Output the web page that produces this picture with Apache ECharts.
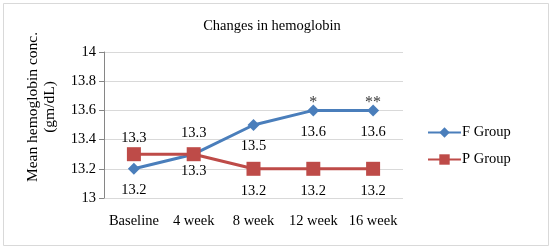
<!DOCTYPE html>
<html>
<head>
<meta charset="utf-8">
<script src="https://cdn.jsdelivr.net/npm/echarts@6/dist/echarts.min.js"></script>
<style>
html,body{margin:0;padding:0;background:#fff;}
#main{width:552px;height:250px;}
</style>
</head>
<body>
<div id="main"></div>
<script>
// data
var categories = ['Baseline', '4 week', '8 week', '12 week', '16 week'];
var fGroup = [13.2, 13.3, 13.5, 13.6, 13.6];
var pGroup = [13.3, 13.3, 13.2, 13.2, 13.2];
var sigMarks = ['', '', '', '*', '**'];
var yTicks = [13, 13.2, 13.4, 13.6, 13.8, 14];

// where each value label sits
var fLabelPos = ['bottom', 'top', 'bottom', 'bottom', 'bottom'];
var pLabelPos = ['top', 'bottom', 'bottom', 'bottom', 'bottom'];
var pLabelDist = [2, 2, 8, 8, 8];

var font = '"Liberation Serif", "Times New Roman", serif';

function withLabels(values, pos, dist) {
    return values.map(function (v, i) {
        return {
            value: v,
            label: { position: pos[i], distance: dist ? dist[i] : 8 }
        };
    });
}

var chart = echarts.init(document.getElementById('main'));

var option = {
    backgroundColor: '#ffffff',
    animation: false,
    textStyle: { fontFamily: font },
    title: {
        text: 'Changes in hemoglobin',
        left: 267,
        textAlign: 'center',
        top: 14,
        textStyle: { fontFamily: font, fontSize: 14.5, fontWeight: 'normal', color: '#000' }
    },
    legend: {
        orient: 'vertical',
        left: 422,
        top: 120,
        itemWidth: 33,
        itemHeight: 13,
        itemGap: 12,
        data: ['F Group', 'P Group'],
        textStyle: { fontFamily: font, fontSize: 14.5, color: '#000', padding: [0, 0, 0, -4] }
    },
    grid: { left: 104, right: 149, top: 52, bottom: 52 },
    xAxis: {
        type: 'category',
        data: categories,
        axisLine: { show: false },
        axisTick: { show: false },
        axisLabel: { color: '#000', fontSize: 14.5, fontFamily: font, margin: 16, interval: 0, hideOverlap: false }
    },
    yAxis: {
        type: 'value',
        min: 13,
        max: 14,
        interval: 0.2,
        name: 'Mean hemoglobin conc.\n(gm/dL)',
        nameLocation: 'middle',
        nameGap: 46,
        nameTextStyle: { fontFamily: font, fontSize: 15.5, color: '#000', lineHeight: 17, padding: [0, 0, 0, 36] },
        axisLine: { show: true, lineStyle: { color: '#868686' } },
        axisTick: { show: true, inside: false, length: 5, lineStyle: { color: '#868686' } },
        splitLine: { lineStyle: { color: '#d9d9d9' } },
        axisLabel: {
            color: '#000', fontSize: 14.5, fontFamily: font, margin: 8,
            formatter: function (v) { return yTicks.indexOf(Math.round(v * 10) / 10) >= 0 ? String(Math.round(v * 10) / 10) : ''; }
        }
    },
    series: [
        {
            name: 'F Group',
            type: 'line',
            data: withLabels(fGroup, fLabelPos),
            symbol: 'diamond',
            symbolSize: 12,
            color: '#4a7ebb',
            lineStyle: { width: 3, color: '#4a7ebb' },
            label: { show: true, color: '#000', fontSize: 14.5, fontFamily: font }
        },
        {
            name: 'P Group',
            type: 'line',
            data: withLabels(pGroup, pLabelPos, pLabelDist),
            symbol: 'rect',
            symbolSize: 14,
            color: '#be4b48',
            lineStyle: { width: 3, color: '#be4b48' },
            label: { show: true, color: '#000', fontSize: 14.5, fontFamily: font }
        },
        {
            name: 'sig',
            type: 'scatter',
            data: fGroup,
            symbolSize: 12,
            itemStyle: { color: 'rgba(0,0,0,0)' },
            silent: true,
            z: 1,
            label: {
                show: true,
                position: 'top',
                distance: -6,
                color: '#000',
                fontSize: 16,
                fontFamily: font,
                formatter: function (p) { return sigMarks[p.dataIndex]; }
            }
        }
    ],
    graphic: [
        {
            type: 'rect',
            shape: { x: 3.5, y: 3.5, width: 545, height: 242 },
            style: { fill: 'none', stroke: '#d9d9d9', lineWidth: 1 },
            silent: true
        }
    ]
};

chart.setOption(option);
</script>
</body>
</html>
